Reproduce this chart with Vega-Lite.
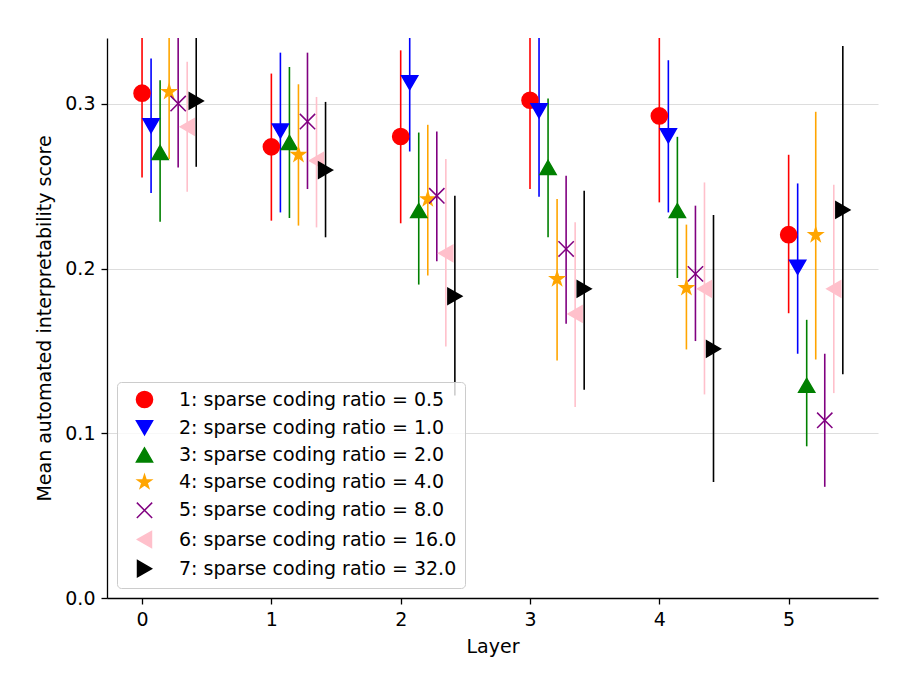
{
  "$schema": "https://vega.github.io/schema/vega-lite/v6.json",
  "width": 771,
  "height": 560,
  "autosize": {"type": "none"},
  "padding": {"left": 107, "top": 38, "right": 36, "bottom": 97},
  "background": "white",
  "config": {
    "font": "DejaVu Sans",
    "view": {"stroke": null},
    "axis": {
      "labelFontSize": 19,
      "titleFontSize": 19,
      "titleFontWeight": "normal",
      "labelColor": "#000000",
      "titleColor": "#000000",
      "domainColor": "#000000",
      "domainWidth": 1.3,
      "tickColor": "#000000",
      "tickWidth": 1.3,
      "tickSize": 6,
      "labelPadding": 6,
      "gridColor": "#dddddd",
      "gridWidth": 1
    },
    "legend": {
      "orient": "bottom-left",
      "offset": 10,
      "padding": 8,
      "rowPadding": 6.2,
      "symbolSize": 260,
      "symbolOffset": 10,
      "labelOffset": 25,
      "labelFontSize": 19,
      "labelColor": "#000000",
      "labelLimit": 400,
      "fillColor": "rgba(255,255,255,0.8)",
      "strokeColor": "#cccccc",
      "cornerRadius": 4
    }
  },
  "data": {
    "values": [
      {"layer": 0, "series": 1, "ratio": "1: sparse coding ratio = 0.5", "mean": 0.3065, "lo": 0.2553, "hi": 0.358},
      {"layer": 1, "series": 1, "ratio": "1: sparse coding ratio = 0.5", "mean": 0.2739, "lo": 0.2291, "hi": 0.3184},
      {"layer": 2, "series": 1, "ratio": "1: sparse coding ratio = 0.5", "mean": 0.2802, "lo": 0.2275, "hi": 0.3325},
      {"layer": 3, "series": 1, "ratio": "1: sparse coding ratio = 0.5", "mean": 0.3022, "lo": 0.2483, "hi": 0.356},
      {"layer": 4, "series": 1, "ratio": "1: sparse coding ratio = 0.5", "mean": 0.2927, "lo": 0.2402, "hi": 0.345},
      {"layer": 5, "series": 1, "ratio": "1: sparse coding ratio = 0.5", "mean": 0.2206, "lo": 0.1729, "hi": 0.2691},
      {"layer": 0, "series": 2, "ratio": "2: sparse coding ratio = 1.0", "mean": 0.2867, "lo": 0.2459, "hi": 0.3275},
      {"layer": 1, "series": 2, "ratio": "2: sparse coding ratio = 1.0", "mean": 0.2836, "lo": 0.2341, "hi": 0.3311},
      {"layer": 2, "series": 2, "ratio": "2: sparse coding ratio = 1.0", "mean": 0.3129, "lo": 0.2711, "hi": 0.355},
      {"layer": 3, "series": 2, "ratio": "2: sparse coding ratio = 1.0", "mean": 0.2958, "lo": 0.2436, "hi": 0.348},
      {"layer": 4, "series": 2, "ratio": "2: sparse coding ratio = 1.0", "mean": 0.2806, "lo": 0.2341, "hi": 0.3265},
      {"layer": 5, "series": 2, "ratio": "2: sparse coding ratio = 1.0", "mean": 0.2008, "lo": 0.1483, "hi": 0.2517},
      {"layer": 0, "series": 3, "ratio": "3: sparse coding ratio = 2.0", "mean": 0.2705, "lo": 0.2285, "hi": 0.3143},
      {"layer": 1, "series": 3, "ratio": "3: sparse coding ratio = 2.0", "mean": 0.2766, "lo": 0.2307, "hi": 0.3224},
      {"layer": 2, "series": 3, "ratio": "3: sparse coding ratio = 2.0", "mean": 0.2352, "lo": 0.1903, "hi": 0.2826},
      {"layer": 3, "series": 3, "ratio": "3: sparse coding ratio = 2.0", "mean": 0.2614, "lo": 0.219, "hi": 0.3032},
      {"layer": 4, "series": 3, "ratio": "3: sparse coding ratio = 2.0", "mean": 0.2352, "lo": 0.1943, "hi": 0.28},
      {"layer": 5, "series": 3, "ratio": "3: sparse coding ratio = 2.0", "mean": 0.1291, "lo": 0.0921, "hi": 0.1689},
      {"layer": 0, "series": 4, "ratio": "4: sparse coding ratio = 4.0", "mean": 0.3073, "lo": 0.2665, "hi": 0.348},
      {"layer": 1, "series": 4, "ratio": "4: sparse coding ratio = 4.0", "mean": 0.2691, "lo": 0.2261, "hi": 0.3119},
      {"layer": 2, "series": 4, "ratio": "4: sparse coding ratio = 4.0", "mean": 0.2422, "lo": 0.1958, "hi": 0.2873},
      {"layer": 3, "series": 4, "ratio": "4: sparse coding ratio = 4.0", "mean": 0.1937, "lo": 0.1442, "hi": 0.2422},
      {"layer": 4, "series": 4, "ratio": "4: sparse coding ratio = 4.0", "mean": 0.1883, "lo": 0.1509, "hi": 0.2267},
      {"layer": 5, "series": 4, "ratio": "4: sparse coding ratio = 4.0", "mean": 0.2204, "lo": 0.1448, "hi": 0.2952},
      {"layer": 0, "series": 5, "ratio": "5: sparse coding ratio = 8.0", "mean": 0.3002, "lo": 0.2614, "hi": 0.342},
      {"layer": 1, "series": 5, "ratio": "5: sparse coding ratio = 8.0", "mean": 0.2893, "lo": 0.2483, "hi": 0.3311},
      {"layer": 2, "series": 5, "ratio": "5: sparse coding ratio = 8.0", "mean": 0.2442, "lo": 0.2044, "hi": 0.2832},
      {"layer": 3, "series": 5, "ratio": "5: sparse coding ratio = 8.0", "mean": 0.2119, "lo": 0.1665, "hi": 0.2564},
      {"layer": 4, "series": 5, "ratio": "5: sparse coding ratio = 8.0", "mean": 0.1968, "lo": 0.156, "hi": 0.2382},
      {"layer": 5, "series": 5, "ratio": "5: sparse coding ratio = 8.0", "mean": 0.1079, "lo": 0.0675, "hi": 0.1483},
      {"layer": 0, "series": 6, "ratio": "6: sparse coding ratio = 16.0", "mean": 0.2861, "lo": 0.2467, "hi": 0.3256},
      {"layer": 1, "series": 6, "ratio": "6: sparse coding ratio = 16.0", "mean": 0.2655, "lo": 0.225, "hi": 0.3042},
      {"layer": 2, "series": 6, "ratio": "6: sparse coding ratio = 16.0", "mean": 0.2093, "lo": 0.1527, "hi": 0.2665},
      {"layer": 3, "series": 6, "ratio": "6: sparse coding ratio = 16.0", "mean": 0.1725, "lo": 0.116, "hi": 0.2281},
      {"layer": 4, "series": 6, "ratio": "6: sparse coding ratio = 16.0", "mean": 0.1877, "lo": 0.1236, "hi": 0.2523},
      {"layer": 5, "series": 6, "ratio": "6: sparse coding ratio = 16.0", "mean": 0.1877, "lo": 0.1244, "hi": 0.2509},
      {"layer": 0, "series": 7, "ratio": "7: sparse coding ratio = 32.0", "mean": 0.3018, "lo": 0.2618, "hi": 0.342},
      {"layer": 1, "series": 7, "ratio": "7: sparse coding ratio = 32.0", "mean": 0.2598, "lo": 0.219, "hi": 0.3012},
      {"layer": 2, "series": 7, "ratio": "7: sparse coding ratio = 32.0", "mean": 0.1832, "lo": 0.123, "hi": 0.2442},
      {"layer": 3, "series": 7, "ratio": "7: sparse coding ratio = 32.0", "mean": 0.1877, "lo": 0.1265, "hi": 0.2473},
      {"layer": 4, "series": 7, "ratio": "7: sparse coding ratio = 32.0", "mean": 0.1513, "lo": 0.0705, "hi": 0.2325},
      {"layer": 5, "series": 7, "ratio": "7: sparse coding ratio = 32.0", "mean": 0.2356, "lo": 0.1358, "hi": 0.3352}
    ]
  },
  "encoding": {
    "x": {
      "field": "layer",
      "type": "quantitative",
      "title": "Layer",
      "scale": {"domain": [-0.271, 5.691], "nice": false, "zero": false},
      "axis": {"values": [0, 1, 2, 3, 4, 5], "format": "d", "grid": false, "titlePadding": 8}
    },
    "color": {
      "field": "ratio",
      "type": "nominal",
      "title": null,
      "scale": {"range": ["#ff0000", "#0000ff", "#008000", "#ffa500", "#800080", "#ffc0cb", "#000000"]},
      "legend": {
        "encode": {
          "symbols": {
            "update": {
              "shape": {"scale": "shape", "field": "value"},
              "fill": {"scale": "color", "field": "value"},
              "stroke": {"scale": "color", "field": "value"},
              "strokeWidth": {"value": 1.5},
              "opacity": {"value": 1}
            }
          }
        }
      }
    }
  },
  "layer": [
    {
      "mark": {
        "type": "rule",
        "strokeWidth": 1.6,
        "clip": true,
        "xOffset": {"expr": "9.03 * (datum.series - 1)"}
      },
      "encoding": {
        "y": {"field": "lo", "type": "quantitative"},
        "y2": {"field": "hi"}
      }
    },
    {
      "mark": {
        "type": "point",
        "filled": true,
        "opacity": 1,
        "size": 260,
        "strokeWidth": 1.5,
        "stroke": {"expr": "scale('color', datum.ratio)"},
        "xOffset": {"expr": "9.03 * (datum.series - 1)"}
      },
      "encoding": {
        "y": {
          "field": "mean",
          "type": "quantitative",
          "title": "Mean automated interpretability score",
          "scale": {"domain": [0, 0.34], "nice": false},
          "axis": {"values": [0, 0.1, 0.2, 0.3], "format": ".1f", "grid": true, "titlePadding": 10}
        },
        "shape": {
          "field": "ratio",
          "type": "nominal",
          "title": null,
          "legend": null,
          "scale": {"range": ["circle", "triangle-down", "triangle-up", "M0,-0.88L0.2,-0.275L0.837,-0.272L0.323,0.105L0.517,0.712L0,0.34L-0.517,0.712L-0.323,0.105L-0.837,-0.272L-0.2,-0.275Z", "M-0.95,-0.95L0.95,0.95M-0.95,0.95L0.95,-0.95", "triangle-left", "triangle-right"]}
        }
      }
    }
  ]
}
